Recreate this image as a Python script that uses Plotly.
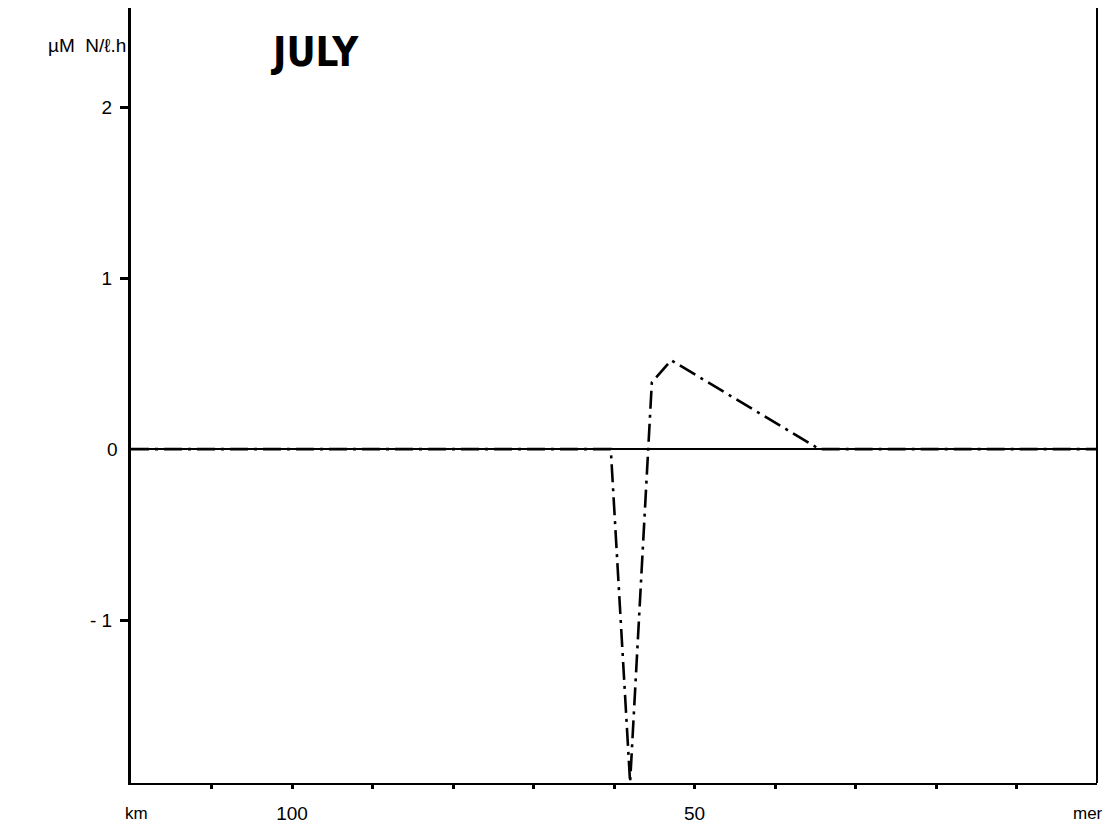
import plotly.graph_objects as go

# Distance from the sea (km) and nitrogen uptake rate (µM N/ℓ.h), July section
distance_km = [120, 60.4, 58.0, 55.3, 52.9, 34.5, 0]
uptake_rate = [0.0, 0.0, -1.95, 0.39, 0.52, 0.0, 0.0]

x_tick_vals = [110, 100, 90, 80, 70, 60, 50, 40, 30, 20, 10]
x_tick_text = ["", "100", "", "", "", "", "50", "", "", "", ""]
y_tick_vals = [-1, 1, 2]
y_tick_text = ["- 1", "1", "2"]

font_family = "Liberation Sans, Arial, Helvetica, sans-serif"

fig = go.Figure()
fig.add_trace(go.Scatter(
    x=distance_km, y=uptake_rate, mode="lines",
    line=dict(color="black", width=2.6, dash="18px,6px,3px,6px"),
    showlegend=False, hoverinfo="skip",
))

fig.update_layout(
    width=1111, height=829,
    margin=dict(l=131, r=14, t=8, b=46, autoexpand=False),
    paper_bgcolor="white", plot_bgcolor="white",
    font=dict(family=font_family, color="black", size=19),
    xaxis=dict(
        range=[120, 0], showgrid=False, zeroline=False, automargin=False,
        showline=True, linecolor="black", linewidth=2.2,
        ticks="outside", ticklen=4, tickwidth=3, tickcolor="black",
        tickvals=x_tick_vals, ticktext=x_tick_text,
        tickfont=dict(size=19), ticklabelstandoff=8,
    ),
    yaxis=dict(
        range=[-1.953, 2.58], showgrid=False, automargin=False,
        zeroline=True, zerolinecolor="black", zerolinewidth=2.2,
        showline=True, linecolor="black", linewidth=3,
        ticks="outside", ticklen=8, tickwidth=3, tickcolor="black",
        tickvals=y_tick_vals, ticktext=y_tick_text,
        tickfont=dict(size=19), ticklabelstandoff=4,
    ),
    shapes=[
        dict(type="line", xref="paper", yref="paper", x0=1, x1=1, y0=0, y1=1,
             line=dict(color="black", width=2)),
    ],
    annotations=[
        dict(text="0", xref="paper", yref="y", x=0, y=0, xanchor="right",
             yanchor="middle", xshift=-11, showarrow=False, font=dict(size=19)),
        dict(text="<b>JULY</b>", xref="paper", yref="paper", x=0.142, y=0.943,
             xanchor="left", yanchor="middle", showarrow=False,
             font=dict(size=40, family="Liberation Sans Narrow, DejaVu Sans Condensed, Arial Narrow, sans-serif")),
        dict(text="µM  N/ℓ.h", xref="paper", yref="paper", x=0, y=0.951,
             xanchor="right", yanchor="middle", xshift=-3, showarrow=False,
             font=dict(size=19)),
        dict(text="km", xref="paper", yref="paper", x=0, y=0, xanchor="center",
             yanchor="top", xshift=5, yshift=-19, showarrow=False, font=dict(size=17)),
        dict(text="mer", xref="paper", yref="paper", x=1, y=0, xanchor="center",
             yanchor="top", xshift=-9, yshift=-19, showarrow=False, font=dict(size=17)),
    ],
)

fig.write_html("out.html")
